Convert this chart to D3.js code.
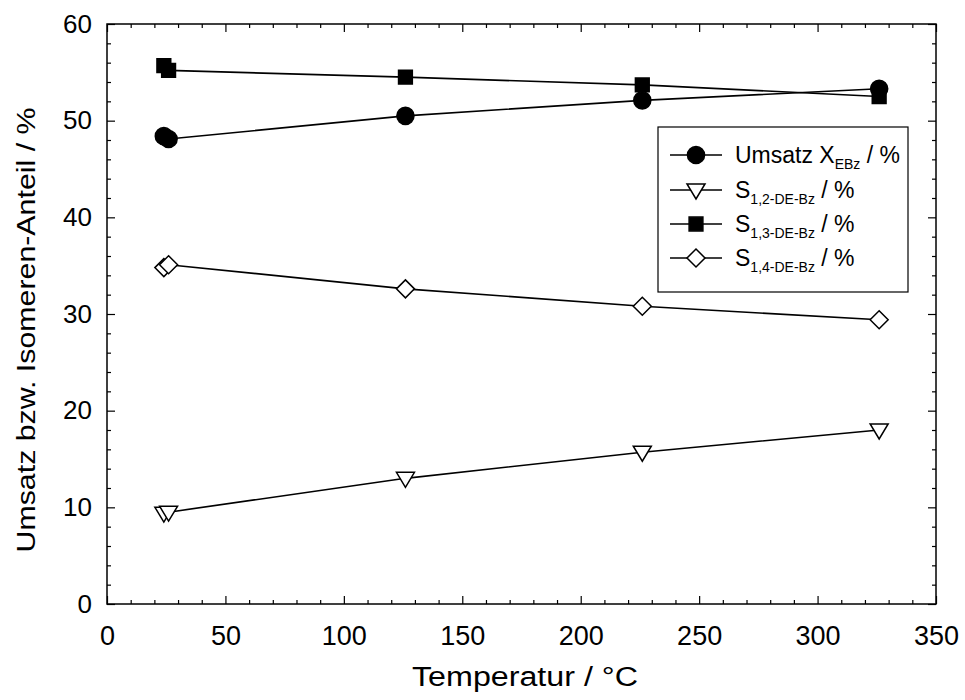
<!DOCTYPE html>
<html><head><meta charset="utf-8">
<script src="https://cdn.jsdelivr.net/npm/d3@7"></script>
<style>body{margin:0;background:#fff}svg{display:block;font-family:"Liberation Sans",Arial,sans-serif}</style>
</head><body><svg id="c" width="965" height="700"></svg>
<script>
const temps = [24, 26, 126, 226, 326];
const umsatz = [48.4, 48.1, 50.5, 52.1, 53.3];
const s12 = [9.4, 9.5, 13.0, 15.7, 18.0];
const s13 = [55.7, 55.2, 54.5, 53.7, 52.5];
const s14 = [34.8, 35.1, 32.6, 30.8, 29.4];
const xTicks = [0, 50, 100, 150, 200, 250, 300, 350];
const yTicks = [0, 10, 20, 30, 40, 50, 60];
const xTitle = "Temperatur / °C";
const yTitle = "Umsatz bzw. Isomeren-Anteil / %";
const legendNames = [["Umsatz X", "EBz"], ["S", "1,2-DE-Bz"], ["S", "1,3-DE-Bz"], ["S", "1,4-DE-Bz"]];

const svg = d3.select("#c");
const L = 107, R = 936, T = 24, B = 604;
const x = d3.scaleLinear().domain([0, 350]).range([L, R]);
const y = d3.scaleLinear().domain([0, 60]).range([B, T]);

svg.append("rect").attr("x", L).attr("y", T).attr("width", R - L).attr("height", B - T)
  .attr("fill", "none").attr("stroke", "#000").attr("stroke-width", 1.5);

const minorX = d3.range(0, 351, 10).filter(v => v % 50 !== 0);
const minorY = d3.range(0, 61, 2).filter(v => v % 10 !== 0);
function tickAxis(axisGen, tr, len, vals) {
  const g = svg.append("g").attr("transform", tr)
    .call(axisGen.tickValues(vals).tickSize(len).tickFormat(""));
  g.select(".domain").remove();
  g.selectAll("line").attr("stroke", "#000").attr("stroke-width", 1.2);
}
tickAxis(d3.axisTop(x), `translate(0,${B})`, 8, xTicks);
tickAxis(d3.axisTop(x), `translate(0,${B})`, 4, minorX);
tickAxis(d3.axisBottom(x), `translate(0,${T})`, 8, xTicks);
tickAxis(d3.axisBottom(x), `translate(0,${T})`, 4, minorX);
tickAxis(d3.axisRight(y), `translate(${L},0)`, 8, yTicks);
tickAxis(d3.axisRight(y), `translate(${L},0)`, 4, minorY);
tickAxis(d3.axisLeft(y), `translate(${R},0)`, 8, yTicks);
tickAxis(d3.axisLeft(y), `translate(${R},0)`, 4, minorY);

const xl = svg.append("g").attr("transform", `translate(0,${B})`)
  .call(d3.axisBottom(x).tickValues(xTicks).tickSize(0).tickPadding(22).tickFormat(d3.format("d")));
xl.select(".domain").remove();
xl.selectAll("text").attr("font-size", 27).attr("font-family", "Liberation Sans, Arial, sans-serif").attr("fill", "#000");
const yl = svg.append("g").attr("transform", `translate(${L},0)`)
  .call(d3.axisLeft(y).tickValues(yTicks).tickSize(0).tickPadding(15).tickFormat(d3.format("d")));
yl.select(".domain").remove();
yl.selectAll("text").attr("font-size", 26).attr("font-family", "Liberation Sans, Arial, sans-serif").attr("fill", "#000");

svg.append("text").attr("x", 525).attr("y", 686).attr("text-anchor", "middle")
  .attr("font-size", 27).attr("textLength", 226).attr("lengthAdjust", "spacingAndGlyphs").text(xTitle);
svg.append("text").attr("transform", `translate(35,330) rotate(-90)`).attr("text-anchor", "middle")
  .attr("font-size", 25).attr("textLength", 445).attr("lengthAdjust", "spacingAndGlyphs").text(yTitle);

const series = [
  { vals: umsatz, sym: d3.symbolCircle, size: 230, fill: "#000" },
  { vals: s12, sym: "tri", size: 0, fill: "#fff" },
  { vals: s13, sym: d3.symbolSquare, size: 190, fill: "#000" },
  { vals: s14, sym: "dia", size: 0, fill: "#fff" }
];
function markerPath(s) {
  if (s.sym === "tri") return "M-9,-6L9,-6L0,9Z";
  if (s.sym === "dia") return "M0,-9L9,0L0,9L-9,0Z";
  return d3.symbol(s.sym, s.size)();
}
const line = d3.line().x(d => x(d[0])).y(d => y(d[1]));
series.forEach(s => {
  const pts = temps.map((t, i) => [t, s.vals[i]]);
  svg.append("path").attr("d", line(pts)).attr("fill", "none").attr("stroke", "#000").attr("stroke-width", 1.6);
});
series.forEach(s => {
  const pts = temps.map((t, i) => [t, s.vals[i]]);
  svg.append("g").selectAll("path").data(pts).join("path")
    .attr("transform", d => `translate(${x(d[0])},${y(d[1])})`)
    .attr("d", markerPath(s)).attr("fill", s.fill).attr("stroke", "#000").attr("stroke-width", 1.5);
});

const lg = svg.append("g");
lg.append("rect").attr("x", 658).attr("y", 127).attr("width", 250).attr("height", 165)
  .attr("fill", "#fff").attr("stroke", "#000").attr("stroke-width", 1.2);
const rowY = [155, 190, 224, 258];
series.forEach((s, i) => {
  const yy = rowY[i];
  lg.append("line").attr("x1", 670).attr("x2", 722).attr("y1", yy).attr("y2", yy).attr("stroke", "#000").attr("stroke-width", 1.6);
  lg.append("path").attr("transform", `translate(696,${yy})`).attr("d", markerPath(s))
    .attr("fill", s.fill).attr("stroke", "#000").attr("stroke-width", 1.5);
  const t = lg.append("text").attr("x", 735).attr("y", yy + 8).attr("font-size", 23);
  t.append("tspan").text(legendNames[i][0]);
  t.append("tspan").attr("font-size", 14).attr("dy", 6).text(legendNames[i][1]);
  t.append("tspan").attr("dy", -6).text(" / %");
});
</script></body></html>
